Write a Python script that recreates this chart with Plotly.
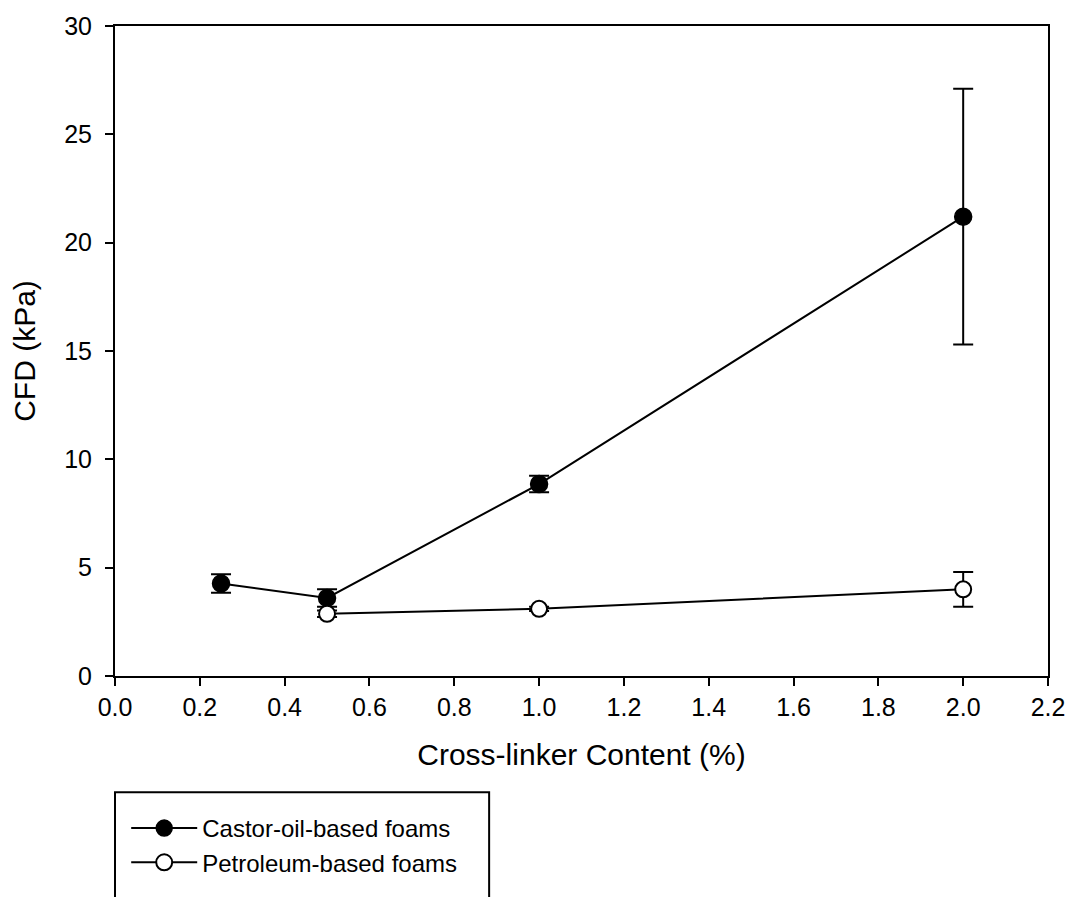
import plotly.graph_objects as go

# Cross-linker content (%) and compression force deflection (kPa)
castor_x = [0.25, 0.5, 1.0, 2.0]
castor_y = [4.27, 3.6, 8.86, 21.2]
castor_err = [0.43, 0.4, 0.38, 5.9]

petro_x = [0.5, 1.0, 2.0]
petro_y = [2.87, 3.1, 4.0]
petro_err = [0.15, 0.1, 0.8]

x_ticks = [0.0, 0.2, 0.4, 0.6, 0.8, 1.0, 1.2, 1.4, 1.6, 1.8, 2.0, 2.2]
y_ticks = [0, 5, 10, 15, 20, 25, 30]

FONT = "Arial, Liberation Sans, sans-serif"

fig = go.Figure()

fig.add_trace(go.Scatter(
    x=castor_x, y=castor_y, name="Castor-oil-based foams",
    mode="lines+markers",
    line=dict(color="black", width=2),
    marker=dict(symbol="circle", size=17, color="black",
                line=dict(color="black", width=1.5)),
    error_y=dict(type="data", array=castor_err, visible=True,
                 color="black", thickness=2, width=10),
))

fig.add_trace(go.Scatter(
    x=petro_x, y=petro_y, name="Petroleum-based foams",
    mode="lines+markers",
    line=dict(color="black", width=2),
    marker=dict(symbol="circle", size=16, color="white",
                line=dict(color="black", width=2)),
    error_y=dict(type="data", array=petro_err, visible=True,
                 color="black", thickness=2, width=10),
))

axis_common = dict(
    showline=True, linecolor="black", linewidth=2, mirror=True,
    ticks="outside", ticklen=8, tickwidth=2, tickcolor="black",
    showgrid=False, zeroline=False,
    tickfont=dict(family=FONT, size=25, color="black"),
)

fig.update_xaxes(
    range=[0, 2.2], tickvals=x_ticks,
    ticktext=[f"{v:.1f}" for v in x_ticks],
    ticklabelstandoff=0,
    title=dict(text="Cross-linker Content (%)",
               font=dict(family=FONT, size=30, color="black"), standoff=24),
    **axis_common,
)
fig.update_yaxes(
    range=[0, 30], tickvals=y_ticks,
    ticklabelstandoff=8,
    title=dict(text="CFD (kPa)",
               font=dict(family=FONT, size=30, color="black"), standoff=20),
    **axis_common,
)

# Legend frame that runs off the bottom edge of the page
fig.add_shape(
    type="rect", xref="paper", yref="paper",
    x0=0.0, x1=0.401, y0=-0.36, y1=-0.179,
    line=dict(color="black", width=2), fillcolor="rgba(0,0,0,0)",
)

fig.update_layout(
    width=1077, height=897,
    margin=dict(l=115, r=20, t=23, b=216),
    paper_bgcolor="white", plot_bgcolor="white",
    font=dict(family=FONT, color="black"),
    showlegend=True,
    legend=dict(
        x=0.012, y=-0.2, xanchor="left", yanchor="top",
        bgcolor="rgba(0,0,0,0)", borderwidth=0,
        font=dict(family=FONT, size=24, color="black"),
        itemwidth=66, tracegroupgap=0,
    ),
)

fig.write_html("out.html")
